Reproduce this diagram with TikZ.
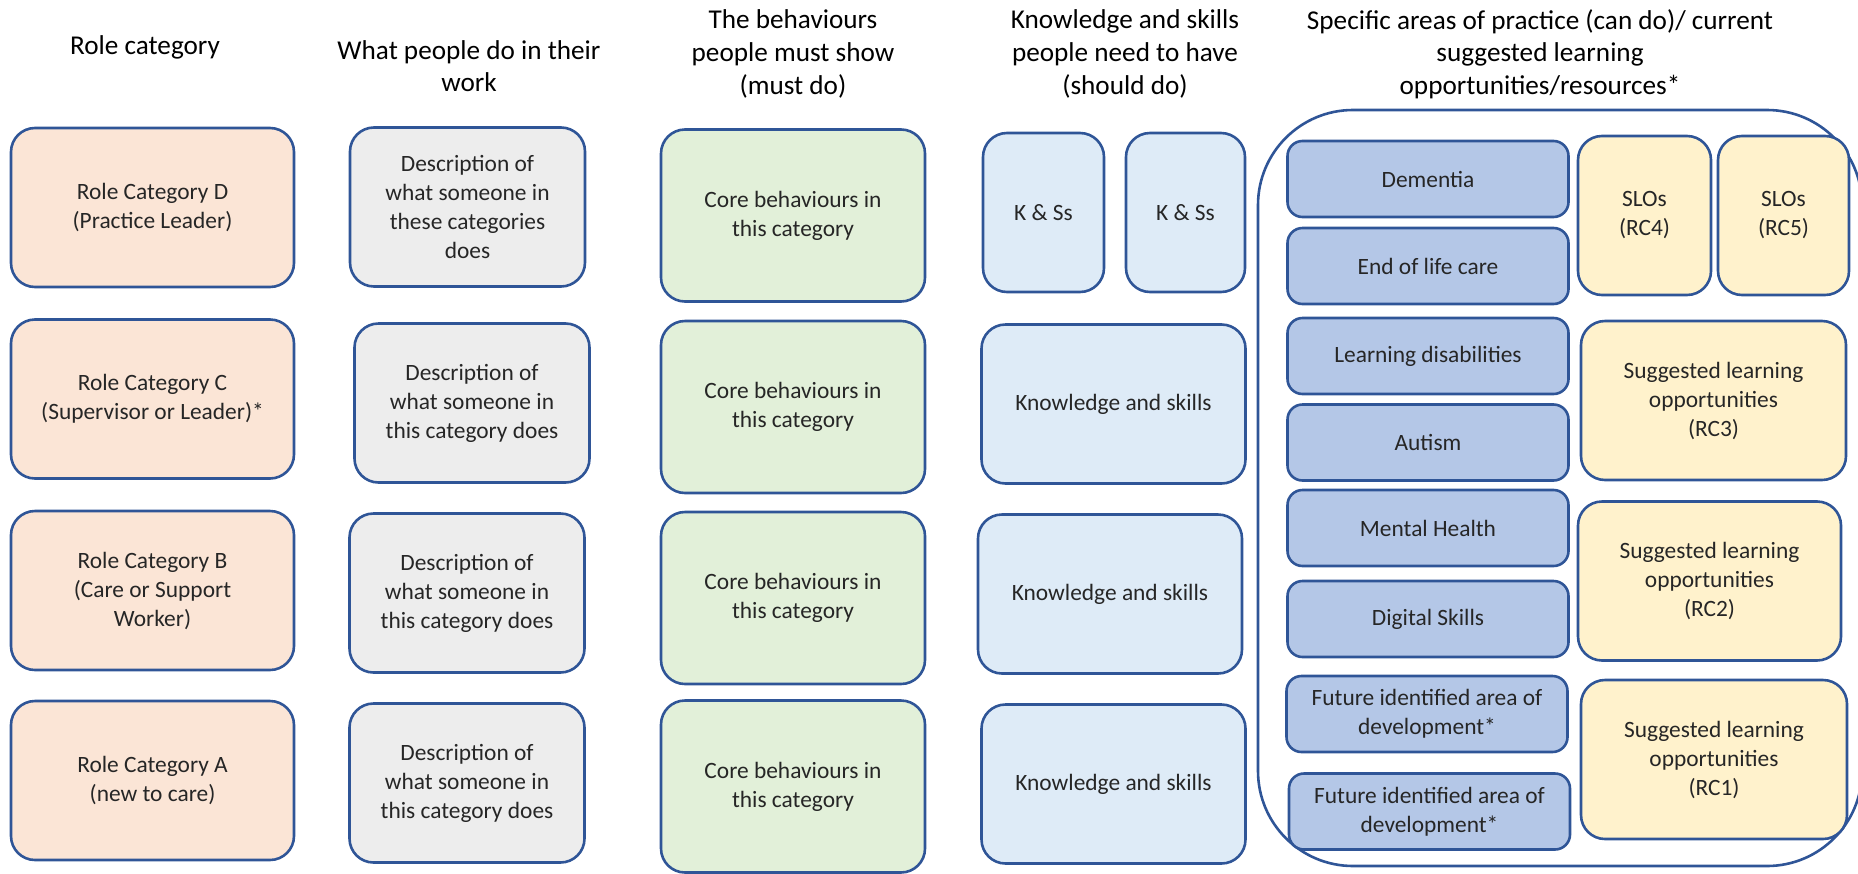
\documentclass[tikz,border=0pt]{standalone}
\usepackage{fontspec}
\setmainfont{Carlito}
\usepackage{tikz}

\definecolor{edgeblue}{HTML}{2F5597}
\definecolor{rolefill}{HTML}{FBE5D6}
\definecolor{descfill}{HTML}{EDEDED}
\definecolor{corefill}{HTML}{E2F0D9}
\definecolor{ksfill}{HTML}{DEEBF7}
\definecolor{areafill}{HTML}{B4C7E7}
\definecolor{slofill}{HTML}{FFF2CC}

\tikzset{
	card/.style={draw=edgeblue, line width=2.6pt, rounded corners=24pt, align=center, inner sep=0pt,
		text=black!85, font=\fontsize{23.4}{29}\selectfont},
	rolebox/.style={card, fill=rolefill, minimum width=283pt, minimum height=159pt},
	descbox/.style={card, fill=descfill, minimum width=235pt, minimum height=159pt},
	corebox/.style={card, fill=corefill, minimum width=264pt, minimum height=172pt},
	ksbox/.style={card, fill=ksfill, minimum height=159pt},
	areabox/.style={card, fill=areafill, rounded corners=15pt, minimum width=281pt, minimum height=76pt},
	slobox/.style={card, fill=slofill, minimum height=159pt},
	heading/.style={align=center, font=\fontsize{27.2}{32.6}\selectfont}
}

\begin{document}
\begin{tikzpicture}[x=1pt,y=-1pt]
\useasboundingbox (0,0) rectangle (1858,873);
\clip (0,0) rectangle (1858,873);

% headings
\node[heading] (hRole) at (145,47) {Role category};
\node[heading] (hWork) at (469,66) {What people do in their\\work};
\node[heading] (hCore) at (793,54) {The behaviours\\people must show\\(must do)};
\node[heading] (hKS) at (1125,54) {Knowledge and skills\\people need to have\\(should do)};
\node[heading] (hArea) at (1540,54) {Specific areas of practice (can do)/ current\\suggested learning\\opportunities/resources*};

% role categories
\node[rolebox] (roleD) at (152.5,207.5) {Role Category D\\(Practice Leader)};
\node[rolebox] (roleC) at (152.5,399) {Role Category C\\(Supervisor or Leader)*};
\node[rolebox] (roleB) at (152.5,590.5) {Role Category B\\(Care or Support\\Worker)};
\node[rolebox] (roleA) at (152.5,780.5) {Role Category A\\(new to care)};

% what people do
\node[descbox] (descD) at (467.5,207) {Description of\\what someone in\\these categories\\does};
\node[descbox] (descC) at (472,403) {Description of\\what someone in\\this category does};
\foreach \name/\cy in {B/593, A/783}
{
	\node[descbox] (desc\name) at (467,\cy) {Description of\\what someone in\\this category does};
}

% core behaviours
\foreach \name/\cy in {D/215.5, C/407, B/598, A/786.5}
{
	\node[corebox] (core\name) at (793,\cy) {Core behaviours in\\this category};
}

% knowledge and skills
\node[ksbox, minimum width=121pt] (ksD1) at (1043.5,212.5) {K \& Ss};
\node[ksbox, minimum width=119pt] (ksD2) at (1185.5,212.5) {K \& Ss};
\foreach \name/\cx/\cy in {C/1113.5/404, B/1110/594, A/1113.5/784}
{
	\node[ksbox, minimum width=264pt] (ks\name) at (\cx,\cy) {Knowledge and skills};
}

% specific areas of practice
\node[draw=edgeblue, line width=2.6pt, rounded corners=95pt, minimum width=604pt, minimum height=756pt] (practice) at (1560,488) {};
\node[areabox] (dementia) at (1428,179) {Dementia};
\node[areabox] (endlife) at (1428,266) {End of life care};
\node[areabox] (learning) at (1428,356) {Learning disabilities};
\node[areabox] (autism) at (1428,442.5) {Autism};
\node[areabox] (mental) at (1428,528) {Mental Health};
\node[areabox] (digital) at (1428,619) {Digital Skills};
\node[areabox] (futureA) at (1427,714) {Future identified area of\\development*};
\node[areabox] (futureB) at (1429.5,811.5) {Future identified area of\\development*};

% learning opportunities
\node[slobox, minimum width=133pt] (sloRC4) at (1644.5,215.5) {SLOs\\(RC4)};
\node[slobox, minimum width=131pt] (sloRC5) at (1783.5,215.5) {SLOs\\(RC5)};
\node[slobox, minimum width=265pt] (sloRC3) at (1713.5,400.5) {Suggested learning\\opportunities\\(RC3)};
\node[slobox, minimum width=263pt] (sloRC2) at (1709.5,581) {Suggested learning\\opportunities\\(RC2)};
\node[slobox, minimum width=266pt] (sloRC1) at (1714,759.5) {Suggested learning\\opportunities\\(RC1)};
\end{tikzpicture}
\end{document}
